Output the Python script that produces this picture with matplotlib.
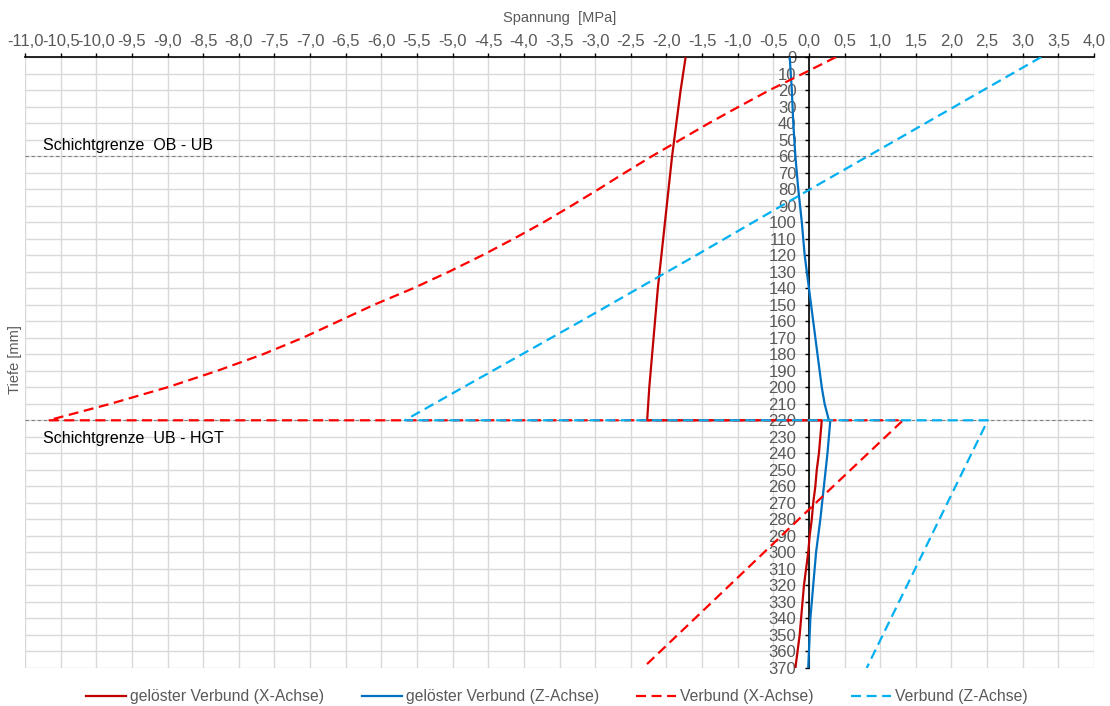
import matplotlib
matplotlib.use("Agg")
import matplotlib.pyplot as plt
import numpy as np

plt.rcParams['font.family'] = ['Liberation Sans', 'DejaVu Sans']

# depth [mm] / stress [MPa] per series (values at 220 appear twice: upper and lower layer)
tiefe_gx = [0, 20, 40, 60, 80, 100, 120, 140, 160, 180, 200, 220,
            220, 230, 240, 250, 260, 270, 280, 290, 300, 320, 340, 350, 370]
sp_gx = [-1.73, -1.80, -1.86, -1.92, -1.97, -2.02, -2.07, -2.12, -2.16, -2.20, -2.24, -2.27,
         0.18, 0.16, 0.14, 0.11, 0.09, 0.06, 0.04, 0.01, -0.01, -0.07, -0.11, -0.13, -0.19]

tiefe_gz = [0, 20, 40, 60, 80, 100, 120, 140, 160, 180, 200, 210, 220,
            220, 240, 260, 280, 300, 320, 340, 360, 370]
sp_gz = [-0.27, -0.24, -0.22, -0.19, -0.15, -0.10, -0.06, 0.00, 0.06, 0.12, 0.18, 0.22, 0.28,
         0.30, 0.26, 0.21, 0.16, 0.10, 0.06, 0.02, 0.00, -0.01]

tiefe_vx = [0, 10, 20, 30, 40, 50, 60, 70, 80, 90, 100, 110, 120, 130, 140, 150,
            160, 170, 180, 190, 200, 210, 220,
            220, 260, 300, 340, 370]
sp_vx = [0.38, -0.08, -0.55, -0.98, -1.40, -1.80, -2.20, -2.58, -2.95, -3.33, -3.72, -4.14,
         -4.58, -5.05, -5.55, -6.10, -6.60, -7.10, -7.66, -8.30, -9.00, -9.80, -10.67,
         1.32, 0.34, -0.63, -1.60, -2.33]

tiefe_vz = [0, 40, 80, 120, 160, 200, 220, 220, 370]
sp_vz = [3.26, 1.64, 0.02, -1.58, -3.20, -4.85, -5.67, 2.51, 0.81]

grenzen = [60, 220]
grenz_texte = ["Schichtgrenze  OB - UB", "Schichtgrenze  UB - HGT"]
grenz_text_y = [53.5, 230.8]

namen = ["gelöster Verbund (X-Achse)", "gelöster Verbund (Z-Achse)",
         "Verbund (X-Achse)", "Verbund (Z-Achse)"]

x_ticks = np.arange(-11.0, 4.01, 0.5)
y_ticks = np.arange(0, 371, 10)

grau = '#595959'

fig = plt.figure(figsize=(11.10, 7.06), dpi=100)
ax = fig.add_axes([25 / 1110, 1 - 668 / 706, (1094 - 25) / 1110, (668 - 57) / 706])

for g in grenzen:
    ax.axhline(g, color='#808080', lw=0.8, dashes=(3, 2.5), zorder=2)

ax.plot(sp_gx, tiefe_gx, color='#C00000', lw=1.6, label=namen[0], zorder=3)
ax.plot(sp_gz, tiefe_gz, color='#0070C0', lw=1.6, label=namen[1], zorder=3)
ax.plot(sp_vx, tiefe_vx, color='#FF0000', lw=1.6, dashes=(4.5, 2.5), label=namen[2], zorder=3)
ax.plot(sp_vz, tiefe_vz, color='#00B0F0', lw=1.6, dashes=(4.5, 2.5), label=namen[3], zorder=3)

for t, yy in zip(grenz_texte, grenz_text_y):
    ax.text(-10.75, yy, t, fontsize=11.5, color='black', va='center', ha='left')

ax.set_xlim(-11, 4)
ax.set_ylim(370, 0)
ax.set_xticks(x_ticks)
ax.set_xticklabels([f"{v:.1f}".replace('.', ',') for v in x_ticks])
ax.set_yticks(y_ticks)
ax.set_yticklabels([str(v) for v in y_ticks])

ax.grid(True, color='#d9d9d9', lw=1.0, zorder=0)
ax.set_axisbelow(True)

ax.spines['right'].set_visible(False)
ax.spines['bottom'].set_visible(False)
ax.spines['left'].set_position(('data', 0))
ax.spines['left'].set_linewidth(1.2)
ax.spines['top'].set_linewidth(1.2)
ax.xaxis.tick_top()
ax.tick_params(axis='x', direction='out', length=3, width=1.0, pad=3,
               labelsize=12, labelcolor=grau)
ax.tick_params(axis='y', direction='out', length=3, width=1.0, pad=6,
               labelsize=12, labelcolor=grau)

fig.text(560 / 1110, 1 - 18 / 706, "Spannung  [MPa]", ha='center', va='center',
         fontsize=10.5, color=grau)
fig.text(15 / 1110, 1 - 360 / 706, "Tiefe [mm]", ha='center', va='center',
         rotation=90, fontsize=10.5, color=grau)

leg = fig.legend(loc='center', bbox_to_anchor=(557 / 1110, 1 - 697 / 706), ncol=4,
                 frameon=False, fontsize=11.3, handlelength=2.55, handletextpad=0.25,
                 columnspacing=2.4)
for txt in leg.get_texts():
    txt.set_color(grau)

fig.savefig("out.png", dpi=100)
